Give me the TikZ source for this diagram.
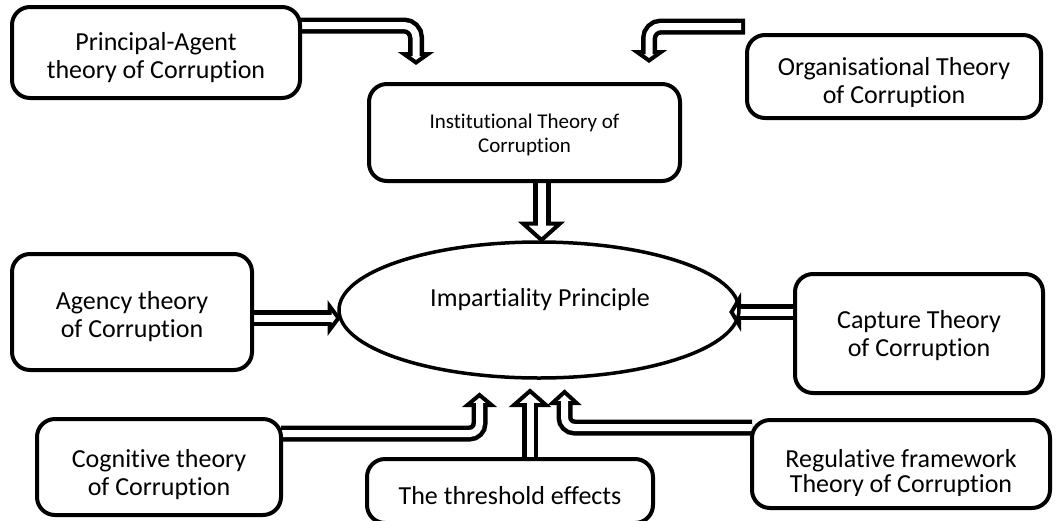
\documentclass[tikz,border=0pt]{standalone}
\usepackage{fontspec}
\setmainfont{Carlito}[Ligatures={NoCommon}]
\usetikzlibrary{shapes.geometric,calc}
\pgfdeclarelayer{under}
\pgfsetlayers{under,main}
\tikzset{
  box/.style={draw=black, line width=4pt, rounded corners=18pt, outer sep=0pt, inner sep=0pt},
  lbl/.style={align=center, font=\fontsize{26}{28}\selectfont, inner sep=0pt},
  small/.style={align=center, font=\fontsize{21}{24}\selectfont, inner sep=0pt},
  shaftout/.style={draw=black, line width=16pt, line cap=butt},
  shaftin/.style={draw=white, line width=7pt, line cap=butt},
  bigout/.style={draw=black, line width=18pt, line cap=butt},
  bigin/.style={draw=white, line width=8pt, line cap=butt},
  headst/.style={draw=black, fill=white, line width=4pt, line join=miter},
  ahead/.pic={\draw[headst] (-1,-1) -- (0,0) -- (1,-1) -- cycle;}
}
\begin{document}
\begin{tikzpicture}[x=1pt,y=-1pt]
\useasboundingbox (0,0) rectangle (1057,520);

% theory boxes
\node[box, minimum width=288pt, minimum height=91pt]  (pa)        at (156,52.5) {};
\node[box, minimum width=294pt, minimum height=83pt]  (org)       at (894,76.5) {};
\node[box, minimum width=311pt, minimum height=97pt]  (inst)      at (524.5,132.5) {};
\node[box, minimum width=240pt, minimum height=116pt] (agency)    at (132,312) {};
\node[box, minimum width=248pt, minimum height=119pt] (capture)   at (919,333.5) {};
\node[box, minimum width=244pt, minimum height=96pt]  (cognitive) at (159,467) {};
\node[box, minimum width=298pt, minimum height=88pt]  (regul)     at (901,464) {};
\node[box, minimum width=286pt, minimum height=64pt]  (thresh)    at (510,491) {};
\node[draw=black, ellipse, line width=3.5pt, minimum width=400pt, minimum height=136pt,
      inner sep=0pt, outer sep=0pt] (imp) at (539,310) {};

% labels
\node[lbl]   (pat)   at ($(pa)+(0,5)$) {Principal-Agent\\theory of Corruption};
\begin{scope}
  \clip (org.north west) rectangle ($(org.south east)+(0,-12)$);
  \node[lbl] (orgt) at ($(org)+(0,6)$) {Organisational Theory\\of Corruption};
\end{scope}
\node[small] (instt) at ($(inst)+(0,2.5)$) {Institutional Theory of\\Corruption};
\node[lbl]   (impt)  at (540,300) {Impartiality Principle};
\node[lbl]   (agt)   at ($(agency)+(0,5)$) {Agency theory\\of Corruption};
\node[lbl]   (capt)  at ($(capture)+(0,2)$) {Capture Theory\\of Corruption};
\node[lbl]   (cogt)  at ($(cognitive)+(0,8)$) {Cognitive theory\\of Corruption};
\begin{scope}
  \clip (regul.north west) rectangle ($(regul.south east)+(0,-13)$);
  \node[lbl, font=\fontsize{26}{25}\selectfont] (regt) at ($(regul)+(0,9)$) {Regulative framework\\Theory of Corruption};
\end{scope}
\node[lbl]   (tht)   at (510,496) {The threshold effects};

% bends and tips of the hollow arrows
\coordinate (a1b) at (416,25.5);  \coordinate (a1t) at (416,62.5);
\coordinate (a2s) at (745,26.5);  \coordinate (a2b) at (649,26.5);  \coordinate (a2t) at (649,60.5);
\coordinate (a3t) at (541.5,240);
\coordinate (a4t) at (338.5,318);
\coordinate (a5t) at (731.5,312);
\coordinate (a6b) at (479.5,433.5); \coordinate (a6t) at (479.5,395);
\coordinate (a7t) at (530,391);
\coordinate (a8b) at (564.5,427.5); \coordinate (a8t) at (564.5,392);

\begin{pgfonlayer}{under}
  % Principal-Agent -> Institutional
  \draw[shaftout, rounded corners=12pt] (pa.east |- a1b) -- (a1b) -- ($(a1t)+(0,-8.5)$);
  \pic[xscale=12, yscale=8.5] at (a1t) {ahead};
  \draw[shaftin, rounded corners=12pt] (pa.east |- a1b) -- (a1b) -- ($(a1t)+(0,-6)$);
  % Organisational -> Institutional
  \draw[shaftout, rounded corners=12pt] (a2s) -- (a2b) -- ($(a2t)+(0,-8.5)$);
  \pic[xscale=12, yscale=8.5] at (a2t) {ahead};
  \draw[shaftin, rounded corners=12pt] ($(a2s)+(-4,0)$) -- (a2b) -- ($(a2t)+(0,-6)$);
  % Institutional -> Impartiality
  \draw[bigout] (inst.south -| a3t) -- ($(a3t)+(0,-16.5)$);
  \pic[xscale=18.5, yscale=16.5] at (a3t) {ahead};
  \draw[bigin] (inst.south -| a3t) -- ($(a3t)+(0,-13.5)$);
  % Agency -> Impartiality
  \draw[shaftout] (agency.east |- a4t) -- ($(a4t)+(-9,0)$);
  \pic[rotate=90, xscale=12, yscale=9] at (a4t) {ahead};
  \draw[shaftin] (agency.east |- a4t) -- ($(a4t)+(-6.5,0)$);
  % Capture -> Impartiality
  \draw[shaftout] (capture.west |- a5t) -- ($(a5t)+(7.5,0)$);
  \pic[rotate=-90, xscale=12.5, yscale=7.5] at (a5t) {ahead};
  \draw[shaftin] (capture.west |- a5t) -- ($(a5t)+(5.5,0)$);
  % Cognitive -> Impartiality
  \draw[shaftout, rounded corners=10pt] (cognitive.east |- a6b) -- (a6b) -- ($(a6t)+(0,10)$);
  \pic[rotate=180, xscale=12, yscale=10] at (a6t) {ahead};
  \draw[shaftin, rounded corners=10pt] (cognitive.east |- a6b) -- (a6b) -- ($(a6t)+(0,7.5)$);
  % Threshold -> Impartiality
  \draw[shaftout] (thresh.north -| a7t) -- ($(a7t)+(0,14)$);
  \pic[rotate=180, xscale=16, yscale=14] at (a7t) {ahead};
  \draw[shaftin] (thresh.north -| a7t) -- ($(a7t)+(0,11)$);
  % Regulative -> Impartiality
  \draw[shaftout, rounded corners=10pt] (regul.west |- a8b) -- (a8b) -- ($(a8t)+(0,11)$);
  \pic[rotate=180, xscale=12, yscale=11] at (a8t) {ahead};
  \draw[shaftin, rounded corners=10pt] (regul.west |- a8b) -- (a8b) -- ($(a8t)+(0,8.5)$);
\end{pgfonlayer}
\end{tikzpicture}
\end{document}
